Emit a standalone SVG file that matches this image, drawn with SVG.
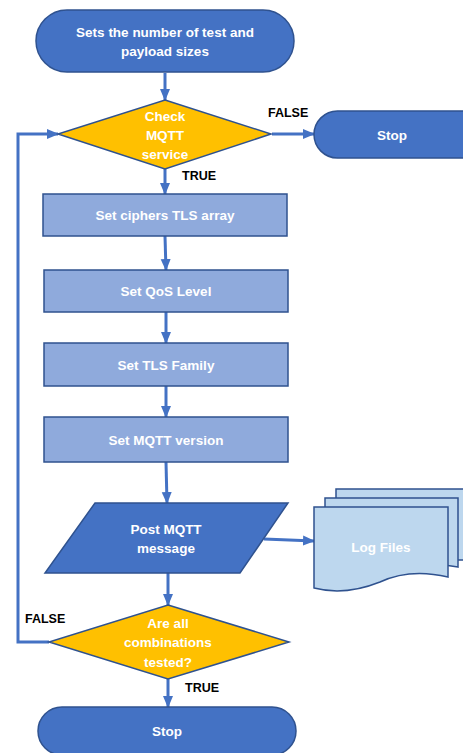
<svg xmlns="http://www.w3.org/2000/svg" width="463" height="753" viewBox="0 0 463 753">
<style>
.term{fill:#4472C4;stroke:#2F528F;stroke-width:1.5}
.dec{fill:#FFC000;stroke:#2F528F;stroke-width:1.5}
.proc{fill:#8FAADC;stroke:#2F528F;stroke-width:1.5}
.io{fill:#4472C4;stroke:#2F528F;stroke-width:1.5}
.doc{fill:#BDD7EE;stroke:#2F528F;stroke-width:1.5}
.t{font-family:"Liberation Sans",Arial,sans-serif;font-weight:bold;font-size:13.5px;fill:#FFFFFF;text-anchor:middle;dominant-baseline:central}
.lbl{font-family:"Liberation Sans",Arial,sans-serif;font-weight:bold;font-size:12.5px;fill:#000000;dominant-baseline:central}
.c{fill:none;stroke:#4472C4;stroke-width:3}
</style>
<defs>
<marker id="ah" markerUnits="userSpaceOnUse" markerWidth="12" markerHeight="12" viewBox="0 0 12 12" refX="11" refY="6" orient="auto">
<path d="M0,1 L12,6 L0,11 Z" fill="#4472C4"/>
</marker>
</defs>
<g id="connectors">
<line class="c" x1="165" y1="73" x2="165" y2="100" marker-end="url(#ah)"/>
<line class="c" x1="272" y1="134" x2="314" y2="134" marker-end="url(#ah)"/>
<line class="c" x1="165" y1="169" x2="165" y2="194" marker-end="url(#ah)"/>
<line class="c" x1="165" y1="236" x2="166" y2="270" marker-end="url(#ah)"/>
<line class="c" x1="166" y1="312" x2="166" y2="343" marker-end="url(#ah)"/>
<line class="c" x1="166" y1="386" x2="166" y2="417" marker-end="url(#ah)"/>
<line class="c" x1="166" y1="462" x2="167" y2="503" marker-end="url(#ah)"/>
<line class="c" x1="264" y1="539" x2="314" y2="541" marker-end="url(#ah)"/>
<line class="c" x1="168" y1="573" x2="168" y2="605" marker-end="url(#ah)"/>
<line class="c" x1="168" y1="679" x2="168" y2="707" marker-end="url(#ah)"/>
<polyline class="c" points="49,642 18,642 18,134 58,134" marker-end="url(#ah)"/>
<text class="lbl" x="268" y="113">FALSE</text>
<text class="lbl" x="182" y="176">TRUE</text>
<text class="lbl" x="25" y="619">FALSE</text>
<text class="lbl" x="185" y="688">TRUE</text>
</g>
<g id="start">
<rect class="term" x="36" y="10" width="258" height="62" rx="31"/>
<text class="t" x="165" y="32">Sets the number of test and</text>
<text class="t" x="165" y="51">payload sizes</text>
</g>
<g id="check">
<polygon class="dec" points="165,100 271,134 165,169 58,134"/>
<text class="t" x="165" y="116">Check</text>
<text class="t" x="165" y="135">MQTT</text>
<text class="t" x="165" y="154">service</text>
</g>
<g id="stop1">
<rect class="term" x="314" y="111" width="180" height="47" rx="23.5"/>
<text class="t" x="392" y="135">Stop</text>
</g>
<g id="ciphers">
<rect class="proc" x="43" y="194" width="244" height="42"/>
<text class="t" x="165" y="215">Set ciphers TLS array</text>
</g>
<g id="qos">
<rect class="proc" x="44" y="270" width="244" height="42"/>
<text class="t" x="166" y="291">Set QoS Level</text>
</g>
<g id="family">
<rect class="proc" x="44" y="343" width="244" height="43"/>
<text class="t" x="166" y="365">Set TLS Family</text>
</g>
<g id="version">
<rect class="proc" x="44" y="417" width="244" height="45"/>
<text class="t" x="166" y="440">Set MQTT version</text>
</g>
<g id="post">
<polygon class="io" points="95,503 288,503 240,573 45,573"/>
<text class="t" x="166" y="529">Post MQTT</text>
<text class="t" x="166" y="548">message</text>
</g>
<g id="logs">
<path class="doc" d="M336,489 H470 V560 H336 Z"/>
<path class="doc" d="M325,498 H458 V567 Q420,560 390,575 Q355,588 325,580 Z"/>
<path class="doc" d="M314,507 H448 V577 Q410,568 380,582 Q345,596 314,588 Z"/>
<text class="t" x="381" y="547">Log Files</text>
</g>
<g id="allTested">
<polygon class="dec" points="168,605 289,642 168,679 49,642"/>
<text class="t" x="168" y="623">Are all</text>
<text class="t" x="168" y="642">combinations</text>
<text class="t" x="168" y="662">tested?</text>
</g>
<g id="stop2">
<rect class="term" x="38" y="707" width="258" height="48" rx="24"/>
<text class="t" x="167" y="731">Stop</text>
</g>
</svg>
